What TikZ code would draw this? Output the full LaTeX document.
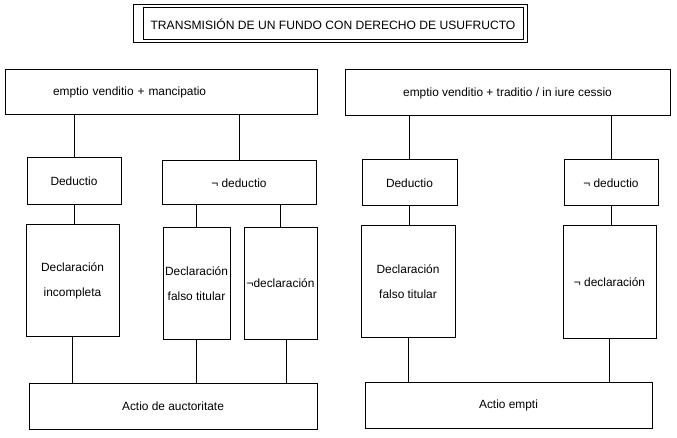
\documentclass[tikz,border=0pt]{standalone}
\usepackage{fontspec}
\setmainfont{Liberation Sans}

\begin{document}
\begin{tikzpicture}[x=1pt,y=-1pt,line width=1pt]
  \tikzstyle{caja}=[draw, rectangle, inner sep=1pt, align=center, font=\fontsize{11.9}{25}\selectfont]
  \useasboundingbox (0,0) rectangle (677,438);
  \node[caja, minimum width=380pt, minimum height=32pt, font=\fontsize{12.1}{14}\selectfont] (1) at (333,24) {TRANSMISIÓN DE UN FUNDO CON DERECHO DE USUFRUCTO};
  \node[draw, minimum width=394pt, minimum height=38pt] (2) at (330,24) {};

  \node[caja, text width=216pt, inner xsep=48pt, minimum height=45pt, align=left] (3) at (161,92.5) {emptio venditio + mancipatio};
  \node[caja, minimum width=325pt, minimum height=46pt] (4) at (507.5,93) {emptio venditio + traditio / in iure cessio};

  \node[caja, minimum width=94pt, minimum height=47pt] (5) at (74,181.5) {Deductio};
  \node[caja, minimum width=154pt, minimum height=44pt] (6) at (239,183) {¬ deductio};
  \node[caja, minimum width=93pt, minimum height=111pt] (7) at (72.5,280.5) {Declaración\\incompleta};
  \node[caja, minimum width=67pt, minimum height=111pt] (8) at (196.5,283.5) {Declaración\\falso titular};
  \node[caja, minimum width=73pt, minimum height=111pt] (9) at (280.5,283.5) {¬declaración};
  \node[caja, minimum width=288pt, minimum height=46pt] (10) at (173,406) {Actio de auctoritate};

  \node[caja, minimum width=95pt, minimum height=46pt] (11) at (409.5,183) {Deductio};
  \node[caja, minimum width=94pt, minimum height=46pt] (12) at (611,183) {¬ deductio};
  \node[caja, minimum width=94pt, minimum height=111pt] (13) at (408,281.5) {Declaración\\falso titular};
  \node[caja, minimum width=93pt, minimum height=112pt] (14) at (609.5,282) {¬ declaración};
  \node[caja, minimum width=287pt, minimum height=46pt] (15) at (508.5,405) {Actio empti};

  \draw (5.north) -- (5.north |- 3.south);
  \draw (6.north) -- (6.north |- 3.south);
  \draw (5.south) -- (5.south |- 7.north);
  \draw (8.north) -- (8.north |- 6.south);
  \draw (9.north) -- (9.north |- 6.south);
  \draw (7.south) -- (7.south |- 10.north);
  \draw (8.south) -- (8.south |- 10.north);
  \draw ([xshift=6pt]9.south) -- ([xshift=6pt]9.south |- 10.north);

  \draw (11.north) -- (11.north |- 4.south);
  \draw (12.north) -- (12.north |- 4.south);
  \draw (11.south) -- (11.south |- 13.north);
  \draw (12.south) -- (12.south |- 14.north);
  \draw (13.south) -- (13.south |- 15.north);
  \draw (14.south) -- (14.south |- 15.north);
\end{tikzpicture}
\end{document}
